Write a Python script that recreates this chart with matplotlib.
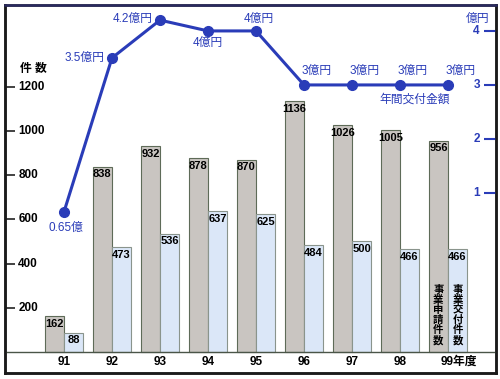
import matplotlib.pyplot as plt

# Data
years = ["91", "92", "93", "94", "95", "96", "97", "98", "99"]
applied = [162, 838, 932, 878, 870, 1136, 1026, 1005, 956]
granted = [88, 473, 536, 637, 625, 484, 500, 466, 466]
amount = [0.65, 3.5, 4.2, 4.0, 4.0, 3.0, 3.0, 3.0, 3.0]
amount_labels = ["0.65億", "3.5億円", "4.2億円", "4億円", "4億円",
                 "3億円", "3億円", "3億円", "3億円"]
left_ticks = [200, 400, 600, 800, 1000, 1200]
right_ticks = [1, 2, 3, 4]

JP = ["Liberation Sans", "Noto Sans CJK JP"]
NARROW = ["Liberation Sans Narrow", "Liberation Sans"]
BLUE = "#2a3cb8"
GRAY = "#c9c5c1"
LBLUE = "#dbe7f8"

fig = plt.figure(figsize=(5, 3.79), dpi=100)
ax = fig.add_axes([5 / 500, 6 / 379, 491 / 500, 368 / 379])
ax2 = ax.twinx()

x = list(range(len(years)))
ax.set_xlim(-1.229, 9.0)
ax.set_ylim(-95, 1570)
ax2.set_ylim(-2.333, 4.48)

# bars
ax.bar([i - 0.2 for i in x], applied, width=0.4, color=GRAY,
       edgecolor="#5e6b58", linewidth=0.8, zorder=2)
ax.bar([i + 0.2 for i in x], granted, width=0.4, color=LBLUE,
       edgecolor="#8a948c", linewidth=0.8, zorder=2)
for i in x:
    ax.text(i - 0.2, applied[i] - 12, str(applied[i]), ha="center", va="top",
            fontsize=8, fontweight="bold", family=NARROW, zorder=3)
    ax.text(i + 0.2, granted[i] - 12, str(granted[i]), ha="center", va="top",
            fontsize=8, fontweight="bold", family=NARROW, zorder=3)

ax.text(8 - 0.2, 167, "\n".join("事業申請件数"), ha="center", va="center",
        fontsize=7.5, fontweight="bold", family="Noto Sans CJK JP", linespacing=1.0, zorder=3)
ax.text(8 + 0.2, 167, "\n".join("事業交付件数"), ha="center", va="center",
        fontsize=7.5, fontweight="bold", family="Noto Sans CJK JP", linespacing=1.0, zorder=3)

# baseline and x labels
ax.axhline(0, color="#4a5548", linewidth=1.0, zorder=4)
for i in x:
    if i < 8:
        ax.text(i, -45, years[i], ha="center", va="center",
                fontsize=8.5, fontweight="bold", family=JP)
    else:
        ax.text(i - 0.15, -45, years[i] + "年度", ha="left", va="center",
                fontsize=8.5, fontweight="bold", family=JP)

# left axis ticks and labels
ax.set_xticks([])
ax.set_yticks(left_ticks)
ax.set_yticklabels([])
ax.tick_params(axis="y", direction="in", length=7, width=1.2, color="#222222")
for v in left_ticks:
    ax.text(0.027, v, str(v), transform=ax.get_yaxis_transform(),
            ha="left", va="center", fontsize=8.5, fontweight="bold", family=JP)
ax.text(0.03, 1280, "件 数", transform=ax.get_yaxis_transform(),
        ha="left", va="center", fontsize=8.5, fontweight="bold", family=JP)

# amount line on right axis
ax2.plot(x, amount, color=BLUE, linewidth=2.2, marker="o", markersize=7, zorder=5)
ax2.set_yticks(right_ticks)
ax2.set_yticklabels([])
ax2.tick_params(axis="y", direction="in", length=9, width=1.5, color=BLUE)
for v in right_ticks:
    ax2.text(0.967, v, str(v), transform=ax2.get_yaxis_transform(),
             ha="right", va="center", fontsize=8.5, fontweight="bold",
             family=JP, color=BLUE)
ax2.text(0.962, 4.22, "億円", transform=ax2.get_yaxis_transform(),
         ha="center", va="center", fontsize=8.5, family=JP, color=BLUE)

# line value labels
lab_kw = dict(fontsize=8.5, family=JP, color=BLUE)
ax2.text(0.05, amount[0] - 0.3, amount_labels[0], ha="center", va="center", **lab_kw)
ax2.text(0.85, amount[1], amount_labels[1], ha="right", va="center", **lab_kw)
ax2.text(1.85, amount[2] + 0.02, amount_labels[2], ha="right", va="center", **lab_kw)
ax2.text(3, amount[3] - 0.23, amount_labels[3], ha="center", va="center", **lab_kw)
ax2.text(4.05, amount[4] + 0.23, amount_labels[4], ha="center", va="center", **lab_kw)
for i in range(5, 9):
    ax2.text(i - 0.05, amount[i] + 0.25, amount_labels[i], ha="left", va="center", **lab_kw)
ax2.text(8.05, 2.72, "年間交付金額", ha="right", va="center", **lab_kw)

# frame
for a in (ax, ax2):
    for s in a.spines.values():
        s.set_linewidth(1.8)
        s.set_color("#1a1a1a")
ax2.spines["top"].set_color("#2a2a60")

fig.savefig("out.png", dpi=100)
